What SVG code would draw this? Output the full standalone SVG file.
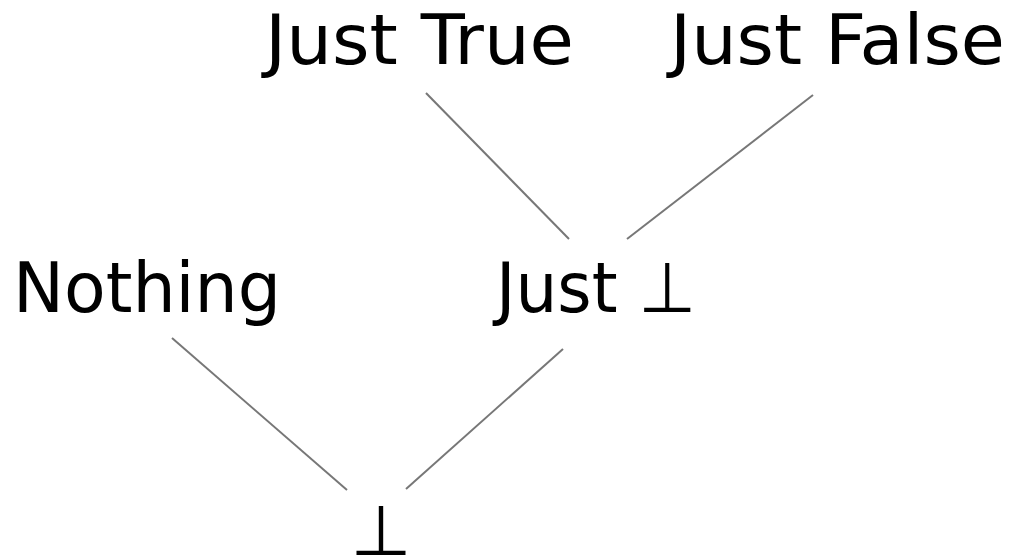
<svg xmlns="http://www.w3.org/2000/svg" width="1010" height="558" viewBox="0 0 1010 558">
<style>
.lbl{font-family:"DejaVu Sans",sans-serif;font-size:70px;fill:#000}
.edge{stroke:#777;stroke-width:2;fill:none}
</style>
<rect width="1010" height="558" fill="#fff"/>
<g id="connectors">
<line class="edge" x1="426" y1="93" x2="569" y2="239"/>
<line class="edge" x1="813" y1="95" x2="627" y2="239"/>
<line class="edge" x1="172" y1="338" x2="347" y2="490"/>
<line class="edge" x1="563" y1="349" x2="406" y2="489"/>
</g>
<g id="just-true"><text class="lbl" x="265" y="64" textLength="309" lengthAdjust="spacingAndGlyphs">Just True</text></g>
<g id="just-false"><text class="lbl" x="670" y="64" textLength="335" lengthAdjust="spacingAndGlyphs">Just False</text></g>
<g id="nothing"><text class="lbl" x="13" y="312" textLength="268" lengthAdjust="spacingAndGlyphs">Nothing</text></g>
<g id="just-bottom"><text class="lbl" x="496" y="312" textLength="200" lengthAdjust="spacingAndGlyphs">Just ⊥</text></g>
<g id="bottom"><text class="lbl" x="381" y="555" text-anchor="middle">⊥</text></g>
</svg>
